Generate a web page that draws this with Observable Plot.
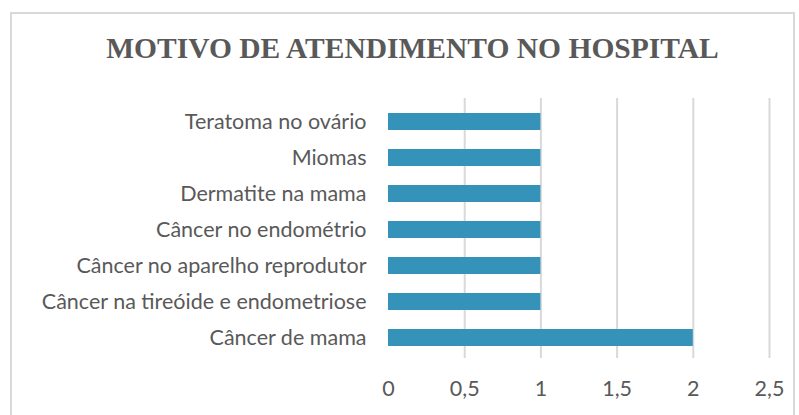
<!DOCTYPE html>
<html>
<head>
<meta charset="utf-8">
<script src="https://cdn.jsdelivr.net/npm/d3@7"></script>
<script src="https://cdn.jsdelivr.net/npm/@observablehq/plot@0.6"></script>
<style>
  html, body { margin: 0; padding: 0; background: #fff; }
  #wrap { position: relative; width: 799px; height: 415px; overflow: hidden; background: #fff; }
  #frame { position: absolute; left: 10px; top: 12px; width: 785px; height: 420px; border: 2px solid #d9d9d9; box-sizing: border-box; }
  #title { position: absolute; left: 10px; width: 805px; top: 32px; text-align: center;
    font-family: "Liberation Serif", "DejaVu Serif", serif; font-weight: bold; font-size: 29.5px; color: #595959; }
  #chart { position: absolute; left: 0; top: 0; }
  #chart svg text { font-size: 21.5px; }
</style>
</head>
<body>
<div id="wrap">
  <div id="frame"></div>
  <div id="title">MOTIVO DE ATENDIMENTO NO HOSPITAL</div>
  <div id="chart"></div>
</div>
<script>
const categories = [
  "Teratoma no ovário",
  "Miomas",
  "Dermatite na mama",
  "Câncer no endométrio",
  "Câncer no aparelho reprodutor",
  "Câncer na tireóide e endometriose",
  "Câncer de mama"
];
const values = [1, 1, 1, 1, 1, 1, 2];
const xTicks = [0, 0.5, 1, 1.5, 2, 2.5];
const gridTicks = [0.5, 1, 1.5, 2, 2.5];

const data = categories.map((c, i) => ({category: c, value: values[i]}));
const fmt = d => String(d).replace(".", ",");

const plot = Plot.plot({
  width: 799,
  height: 415,
  marginLeft: 388,
  marginRight: 30,
  marginTop: 91,
  marginBottom: 47,
  style: { fontFamily: "Lato, sans-serif", fontSize: "21.5px", color: "#595959", background: "transparent" },
  x: { domain: [0, 2.5], ticks: xTicks, tickFormat: fmt, label: null },
  y: { domain: categories, padding: 0.54, label: null },
  marks: [
    Plot.ruleX(gridTicks, { stroke: "#d9d9d9", strokeWidth: 2, insetTop: 7, insetBottom: 10 }),
    Plot.barX(data, { x: "value", y: "category", fill: "#3592b8" }),
    Plot.axisX({ ticks: xTicks, tickFormat: fmt, tickSize: 0, tickPadding: 12, fill: "#595959", label: null }),
    Plot.axisY({ tickSize: 0, tickPadding: 22, fill: "#595959", label: null })
  ]
});
document.getElementById("chart").appendChild(plot);
</script>
</body>
</html>
